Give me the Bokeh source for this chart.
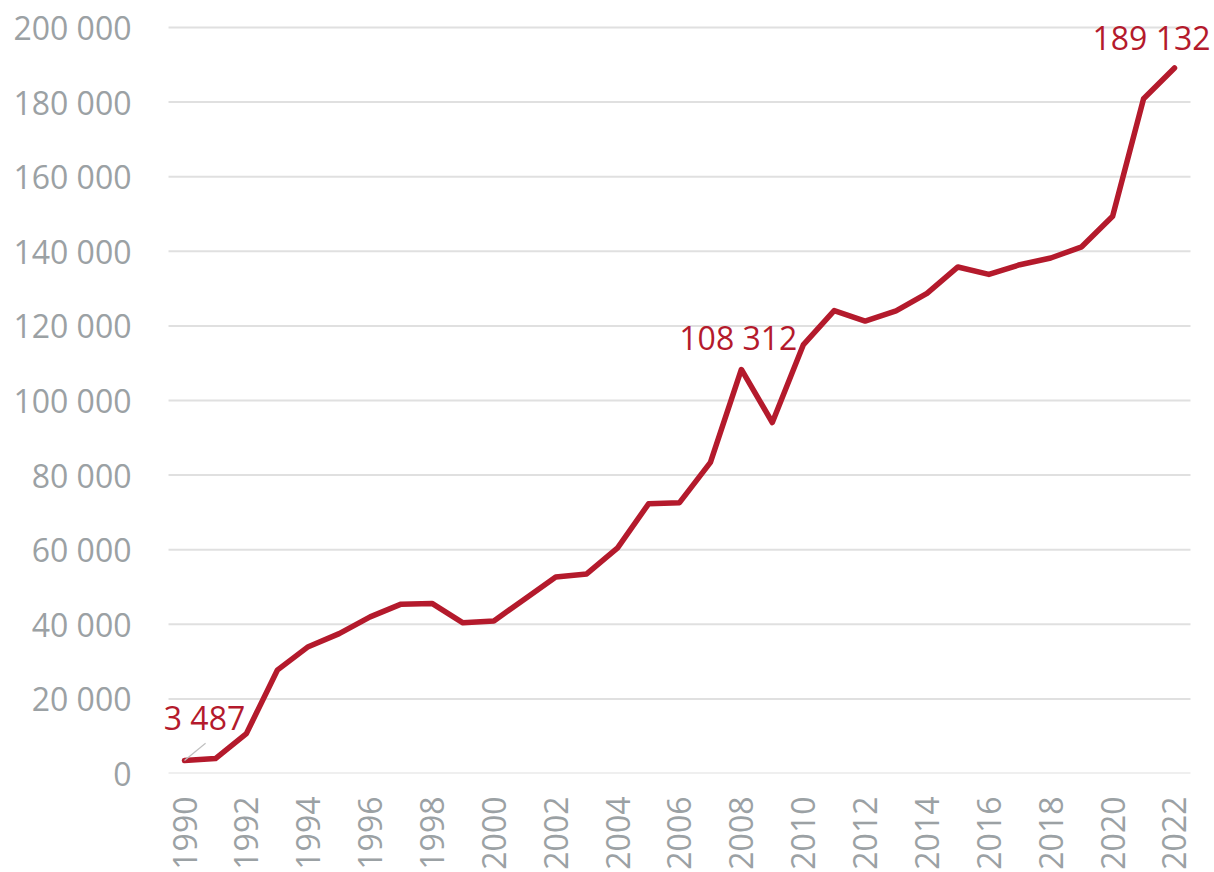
import math
from bokeh.plotting import figure
from bokeh.models import ColumnDataSource, FixedTicker, Range1d, Label
from bokeh.embed import file_html
from bokeh.resources import INLINE

years = list(range(1990, 2023))
values = [3487, 4000, 10700, 27700, 34000, 37500, 42000, 45400, 45600, 40400,
          40900, 46800, 52700, 53500, 60500, 72300, 72600, 83400, 108312, 94100,
          114900, 124100, 121300, 124000, 128700, 135800, 133800, 136400, 138200, 141200,
          149400, 180900, 189132]

y_ticks = [0, 20000, 40000, 60000, 80000, 100000, 120000, 140000, 160000, 180000, 200000]
y_tick_labels = ["0", "20 000", "40 000", "60 000", "80 000", "100 000",
                 "120 000", "140 000", "160 000", "180 000", "200 000"]
x_ticks = list(range(1990, 2023, 2))
x_tick_labels = [str(y) for y in x_ticks]

labelled_years = [1990, 2008, 2022]
labelled_texts = ["3 487", "108 312", "189 132"]

RED = "#B41A2C"
GREY = "#9BA1A4"
FONT = "Open Sans"

# padding beyond first/last year for the grid extent
pad = 0.517
grid_lo = years[0] - pad
grid_hi = years[-1] + pad

p = figure(width=1214, height=872, output_backend="svg", toolbar_location=None,
           x_range=Range1d(1988.901, 2023.293), y_range=Range1d(0, 204552),
           min_border_left=150, min_border_right=0, min_border_top=10, min_border_bottom=98)
p.outline_line_color = None
p.background_fill_color = "white"
p.border_fill_color = "white"

# horizontal grid lines limited to the plot extent
p.segment(x0=[grid_lo] * len(y_ticks), y0=y_ticks, x1=[grid_hi] * len(y_ticks), y1=y_ticks,
          line_color="#E0E0E0", line_width=2)

src = ColumnDataSource(dict(x=years, y=values))
p.line("x", "y", source=src, line_color=RED, line_width=5.5, line_join="round", line_cap="round")

# leader line for first label
i0 = years.index(1990)
p.segment(x0=[years[i0]], y0=[values[i0]], x1=[years[i0] + 0.68], y1=[values[i0] + 4600],
          line_color="#BFBFBF", line_width=1.2)

offsets = {1990: (20, 43, "center"), 2008: (-3, 32, "center"), 2022: (-23, 31, "center")}
for yr, txt in zip(labelled_years, labelled_texts):
    v = values[years.index(yr)]
    dx, dy, al = offsets[yr]
    p.add_layout(Label(x=yr, y=v, text=txt, x_offset=dx, y_offset=dy,
                       text_align=al, text_baseline="alphabetic",
                       text_font=FONT, text_font_size="32px", text_color=RED))

# axes
p.yaxis.ticker = FixedTicker(ticks=y_ticks)
p.yaxis.major_label_overrides = {t: l for t, l in zip(y_ticks, y_tick_labels)}
p.xaxis.ticker = FixedTicker(ticks=x_ticks)
p.xaxis.major_label_overrides = {t: l for t, l in zip(x_ticks, x_tick_labels)}
p.xaxis.major_label_orientation = math.pi / 2

for ax in (p.xaxis, p.yaxis):
    ax.axis_line_color = None
    ax.major_tick_line_color = None
    ax.minor_tick_line_color = None
    ax.major_label_text_font = FONT
    ax.major_label_text_font_size = "32px"
    ax.major_label_text_color = GREY
p.yaxis.major_label_standoff = 13
p.xaxis.major_label_standoff = 17

p.xgrid.grid_line_color = None
p.ygrid.grid_line_color = None

open("out.html", "w").write(file_html(p, INLINE))
